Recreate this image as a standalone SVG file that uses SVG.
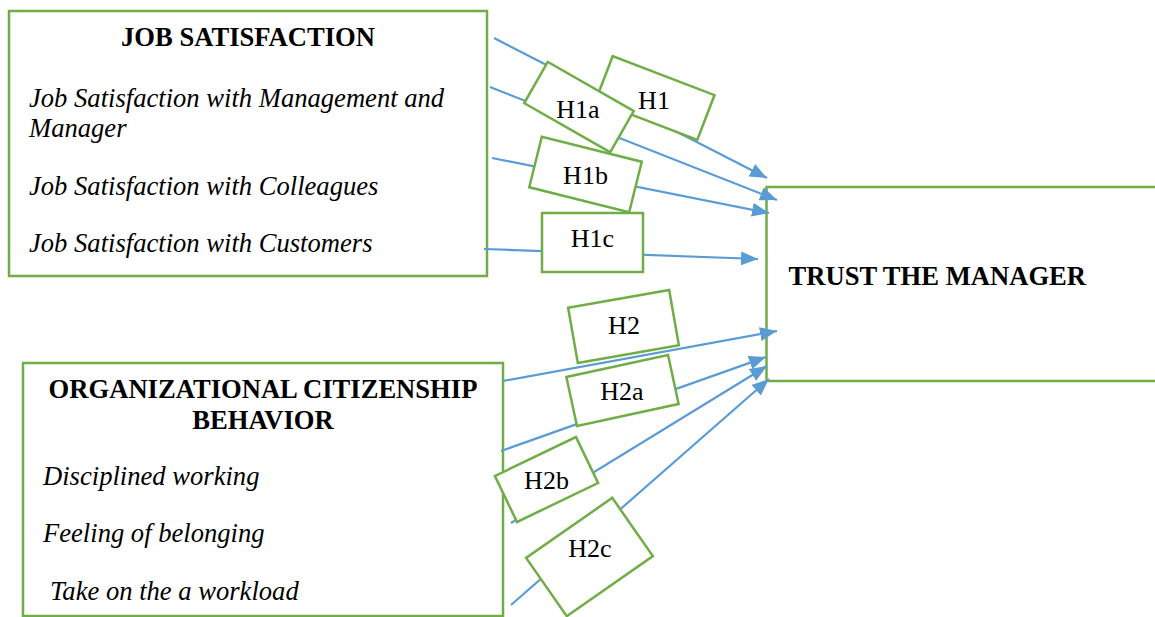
<svg xmlns="http://www.w3.org/2000/svg" width="1155" height="617" viewBox="0 0 1155 617">
  <style>
    .box { fill: #ffffff; stroke: #70AD47; stroke-width: 2.5; }
    .hyp { fill: #ffffff; stroke: #70AD47; stroke-width: 2.5; }
    .link { fill: none; stroke: #5B9BD5; stroke-width: 2.2; marker-end: url(#arrow); }
    text { font-family: "Liberation Serif", "Times New Roman", serif; fill: #000000; }
    .title { font-size: 26.6px; font-weight: bold; }
    .item { font-size: 26.6px; font-style: italic; }
    .hl { font-size: 26px; text-anchor: middle; }
  </style>
  <defs>
    <marker id="arrow" markerUnits="userSpaceOnUse" markerWidth="17" markerHeight="14" viewBox="0 0 17 14" refX="17" refY="7" orient="auto">
      <path d="M0,0 L17,7 L0,14 Z" fill="#5B9BD5"/>
    </marker>
  </defs>
  <rect width="1155" height="617" fill="#ffffff"/>

  <!-- Construct boxes -->
  <g id="job-satisfaction">
    <rect class="box" x="9" y="11" width="478" height="265"/>
    <text class="title" x="248" y="46" text-anchor="middle">JOB SATISFACTION</text>
    <text class="item" x="29" y="107">Job Satisfaction with Management and</text>
    <text class="item" x="29" y="137">Manager</text>
    <text class="item" x="29" y="195">Job Satisfaction with Colleagues</text>
    <text class="item" x="29" y="252">Job Satisfaction with Customers</text>
  </g>

  <g id="ocb">
    <rect class="box" x="23" y="363" width="480" height="253"/>
    <text class="title" x="263" y="398" text-anchor="middle">ORGANIZATIONAL CITIZENSHIP</text>
    <text class="title" x="263" y="429" text-anchor="middle">BEHAVIOR</text>
    <text class="item" x="43" y="485">Disciplined working</text>
    <text class="item" x="43" y="542">Feeling of belonging</text>
    <text class="item" x="50" y="600">Take on the a workload</text>
  </g>

  <g id="trust-manager">
    <rect class="box" x="766.5" y="187" width="400" height="194"/>
    <text class="title" x="788.5" y="285">TRUST THE MANAGER</text>
  </g>

  <!-- Hypothesised paths -->
  <g id="connectors">
    <line class="link" x1="494" y1="38" x2="767" y2="178"/>
    <line class="link" x1="490" y1="87" x2="777" y2="200"/>
    <line class="link" x1="492" y1="158" x2="769" y2="213"/>
    <line class="link" x1="484" y1="249" x2="758" y2="259"/>
    <line class="link" x1="503" y1="381" x2="777" y2="331"/>
    <line class="link" x1="501" y1="451" x2="766" y2="357"/>
    <line class="link" x1="511" y1="523" x2="767" y2="366"/>
    <line class="link" x1="511" y1="605" x2="769" y2="379"/>
  </g>

  <!-- Hypothesis labels -->
  <g id="h1">
    <rect class="hyp" x="-54.5" y="-24" width="109" height="48" transform="translate(655 98) rotate(21)"/>
    <text class="hl" x="654" y="109">H1</text>
  </g>
  <g id="h1a">
    <rect class="hyp" x="-49.5" y="-23.7" width="99" height="47.5" transform="translate(579 107) rotate(29.7)"/>
    <text class="hl" x="578" y="118">H1a</text>
  </g>
  <g id="h1b">
    <rect class="hyp" x="-51.5" y="-26" width="103" height="52" transform="translate(585.5 174.5) rotate(14)"/>
    <text class="hl" x="585.5" y="184">H1b</text>
  </g>
  <g id="h1c">
    <rect class="hyp" x="542" y="213" width="101" height="59"/>
    <text class="hl" x="592.5" y="247">H1c</text>
  </g>
  <g id="h2">
    <rect class="hyp" x="-51.3" y="-28" width="102.6" height="56" transform="translate(623.5 326.5) rotate(-10)"/>
    <text class="hl" x="624" y="334">H2</text>
  </g>
  <g id="h2a">
    <rect class="hyp" x="-52" y="-25" width="104" height="50" transform="translate(622.5 390.5) rotate(-12.2)"/>
    <text class="hl" x="622" y="400">H2a</text>
  </g>
  <g id="h2b">
    <rect class="hyp" x="-45" y="-25.5" width="90" height="51" transform="translate(546.5 479.5) rotate(-25.7)"/>
    <text class="hl" x="546.5" y="489">H2b</text>
  </g>
  <g id="h2c">
    <rect class="hyp" x="-52.5" y="-35.5" width="105" height="71" transform="translate(589.5 557) rotate(-34.9)"/>
    <text class="hl" x="590" y="557">H2c</text>
  </g>
</svg>
